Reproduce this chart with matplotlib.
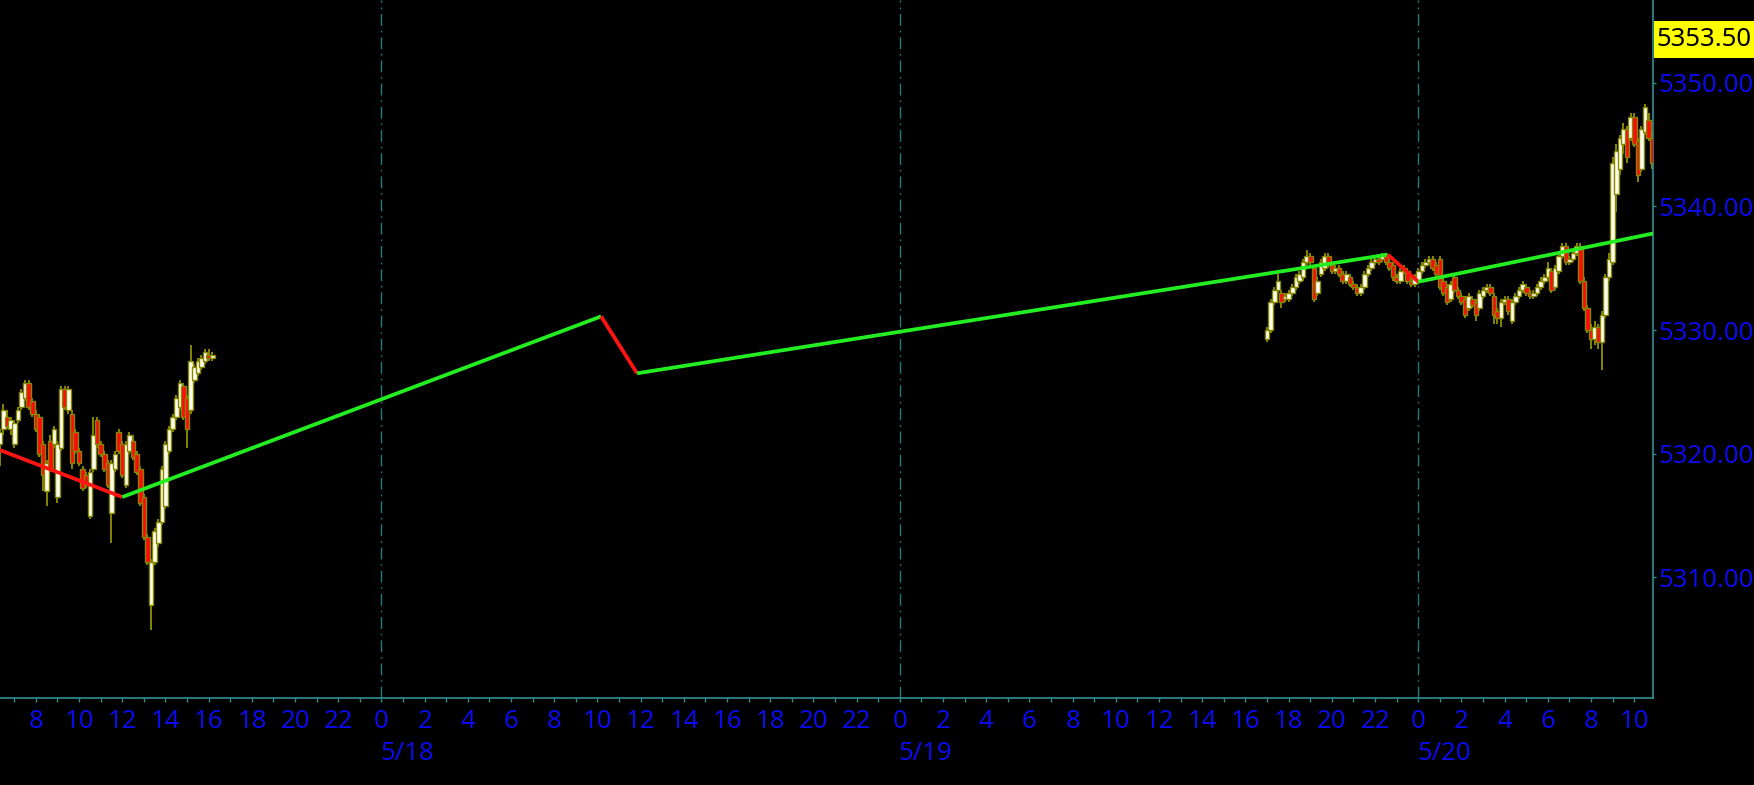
import matplotlib
matplotlib.use('Agg')
import matplotlib.pyplot as plt
import numpy as np
import pandas as pd
from matplotlib.ticker import FixedLocator, FuncFormatter
from matplotlib.patches import Rectangle

# ---------------- data ----------------
origin = pd.Timestamp('2024-05-17 00:00')
left_start = '2024-05-17 06:20'
right_start = '2024-05-19 17:00'
bar_freq = '10min'

left_open = [5320.75, 5322.0, 5323.0, 5322.0, 5320.75, 5322.75, 5323.75, 5324.5, 5325.75, 5324.25,
             5323.25, 5323.0, 5320.75, 5317.0, 5321.0, 5320.75, 5316.5, 5320.5, 5325.25,
             5323.5, 5323.25, 5321.75, 5320.25, 5318.75, 5318.25, 5315.0, 5318.75, 5322.75, 5320.75,
             5320.0, 5319.25, 5315.25, 5318.75, 5321.75, 5320.75, 5317.5, 5320.25,
             5321.0, 5320.0, 5318.75, 5316.5, 5313.25, 5307.75, 5311.25, 5312.75, 5314.5, 5315.75,
             5320.25, 5322.0, 5323.0, 5323.75, 5325.5, 5324.5, 5323.5, 5326.0, 5326.5, 5327.0,
             5327.5, 5328.0, 5327.75]
left_high = [5322.0, 5324.0, 5323.5, 5323.0, 5322.75, 5323.75, 5325.25, 5326.0, 5326.0, 5324.5,
             5323.5, 5323.25, 5321.0, 5319.5, 5321.5, 5322.25, 5321.0, 5325.5, 5325.5,
             5325.5, 5323.5, 5322.0, 5320.5, 5319.0, 5318.5, 5318.75, 5323.0, 5323.0, 5321.0,
             5320.25, 5319.5, 5319.5, 5320.25, 5322.0, 5321.0, 5321.0, 5321.75,
             5321.5, 5320.25, 5319.0, 5316.75, 5313.5, 5311.5, 5314.0, 5314.75, 5319.0, 5321.0,
             5322.25, 5323.25, 5324.75, 5326.0, 5325.75, 5324.75, 5328.75, 5327.25, 5327.75, 5328.0,
             5328.5, 5328.5, 5328.25]
left_low = [5319.0, 5321.5, 5322.0, 5321.5, 5320.5, 5322.5, 5323.5, 5324.25, 5323.5, 5323.0,
            5321.75, 5319.75, 5317.0, 5315.75, 5318.5, 5320.5, 5316.0, 5320.25, 5323.5,
            5323.25, 5318.75, 5320.0, 5319.0, 5317.0, 5317.25, 5314.75, 5318.5, 5320.5, 5319.75,
            5318.5, 5317.25, 5312.75, 5318.5, 5320.0, 5318.0, 5317.25, 5320.0,
            5319.5, 5318.25, 5315.75, 5313.0, 5311.0, 5305.75, 5311.0, 5312.5, 5314.25, 5315.5,
            5320.0, 5321.75, 5322.75, 5323.5, 5322.75, 5320.5, 5323.25, 5325.75, 5326.25, 5326.75,
            5327.25, 5327.5, 5327.5]
left_close = [5321.75, 5323.5, 5322.25, 5322.75, 5322.5, 5323.5, 5325.0, 5325.75, 5323.75, 5323.25,
              5322.0, 5320.0, 5318.25, 5319.25, 5318.75, 5322.0, 5320.75, 5325.25, 5323.75,
              5325.25, 5319.25, 5320.25, 5319.25, 5317.25, 5317.5, 5318.5, 5321.5, 5320.75, 5320.0,
              5318.75, 5317.5, 5319.25, 5320.0, 5320.25, 5318.25, 5320.75, 5321.5,
              5319.75, 5318.5, 5316.0, 5313.25, 5311.25, 5311.25, 5313.75, 5314.5, 5318.75, 5320.75,
              5322.0, 5323.0, 5324.5, 5325.75, 5323.0, 5322.0, 5327.5, 5327.0, 5327.5, 5327.75,
              5328.25, 5327.75, 5328.0]

right_open = [5329.25, 5330.0, 5332.25, 5333.25, 5333.0, 5332.5, 5332.5, 5333.0, 5333.5, 5334.0,
              5334.25, 5335.5, 5336.0, 5335.0, 5333.0, 5334.5, 5335.0, 5336.0, 5335.25, 5334.75,
              5335.0, 5334.5, 5334.0, 5334.25, 5333.75, 5333.5, 5333.0, 5333.5, 5334.5, 5335.0,
              5335.5, 5335.75, 5335.75, 5336.0, 5335.5, 5335.25, 5334.25, 5334.0, 5334.75, 5334.75,
              5334.0, 5333.75, 5334.0, 5334.75, 5335.25, 5335.5, 5335.75, 5335.25, 5335.75, 5334.0,
              5333.5, 5332.5, 5334.25, 5333.25, 5332.75, 5332.5, 5331.75, 5332.5, 5332.25, 5331.75,
              5332.75, 5333.25, 5333.5, 5332.75, 5331.5, 5331.0, 5332.25, 5332.5, 5330.75, 5332.25,
              5332.75, 5333.25, 5333.5, 5333.0, 5332.75, 5333.0, 5333.5, 5334.0, 5334.25, 5334.75,
              5333.5, 5334.75, 5336.0, 5336.75, 5335.5, 5335.75, 5336.25, 5336.75, 5334.0, 5331.75,
              5330.0, 5329.25, 5330.25, 5329.0, 5331.25, 5334.25, 5335.5, 5341.0, 5343.0, 5345.0,
              5346.25, 5345.5, 5347.25, 5345.25, 5343.0, 5346.0, 5347.0, 5345.5]
right_high = [5330.25, 5332.5, 5333.5, 5334.5, 5333.25, 5333.0, 5333.25, 5333.75, 5334.5, 5334.75,
              5335.75, 5336.5, 5336.25, 5335.25, 5334.25, 5335.75, 5336.25, 5336.25, 5335.5, 5335.25,
              5335.25, 5334.75, 5334.75, 5334.5, 5334.0, 5333.75, 5333.75, 5334.75, 5335.25, 5335.75,
              5336.0, 5336.0, 5336.25, 5336.25, 5335.75, 5335.5, 5334.5, 5335.0, 5335.25, 5335.0,
              5334.25, 5334.5, 5335.0, 5335.5, 5335.75, 5336.0, 5336.0, 5335.5, 5336.0, 5334.25,
              5333.75, 5334.0, 5334.5, 5333.5, 5333.0, 5332.75, 5333.0, 5332.75, 5332.5, 5333.25,
              5333.5, 5333.75, 5333.75, 5333.0, 5331.75, 5332.5, 5332.75, 5332.75, 5332.5, 5333.0,
              5333.5, 5334.0, 5333.75, 5333.25, 5333.25, 5333.75, 5334.25, 5334.5, 5335.5, 5335.0,
              5335.25, 5336.25, 5337.0, 5337.0, 5336.0, 5336.5, 5337.0, 5337.0, 5334.25, 5332.0,
              5330.5, 5330.75, 5330.5, 5331.5, 5334.5, 5336.25, 5344.0, 5345.0, 5345.75, 5346.75,
              5346.5, 5347.5, 5347.5, 5345.5, 5346.5, 5348.25, 5347.5, 5346.0]
right_low = [5329.0, 5329.75, 5332.0, 5333.0, 5331.75, 5332.25, 5332.25, 5332.75, 5333.25, 5333.75,
             5334.0, 5335.25, 5335.25, 5332.25, 5332.75, 5334.25, 5334.75, 5335.0, 5334.5, 5334.5,
             5334.25, 5333.75, 5333.75, 5333.5, 5333.25, 5332.75, 5332.75, 5333.25, 5334.25, 5334.75,
             5335.25, 5335.25, 5335.5, 5335.25, 5334.75, 5334.0, 5333.75, 5333.75, 5334.5, 5333.75,
             5333.5, 5333.5, 5333.75, 5334.5, 5335.0, 5335.25, 5334.75, 5334.25, 5333.25, 5332.75,
             5332.0, 5332.25, 5333.0, 5332.5, 5332.0, 5331.0, 5331.5, 5331.75, 5330.75, 5331.5,
             5332.5, 5333.0, 5332.75, 5330.5, 5330.5, 5330.25, 5332.0, 5331.25, 5330.5, 5332.0,
             5332.5, 5333.0, 5332.75, 5332.5, 5332.5, 5332.75, 5333.25, 5333.75, 5334.0, 5333.0,
             5333.25, 5334.5, 5335.75, 5335.25, 5335.25, 5335.5, 5336.0, 5333.75, 5331.5, 5329.75,
             5328.5, 5328.75, 5328.5, 5326.75, 5331.0, 5334.0, 5335.25, 5339.5, 5342.5, 5344.25,
             5343.5, 5345.25, 5344.75, 5342.0, 5342.75, 5345.75, 5345.25, 5343.0]
right_close = [5330.0, 5332.25, 5333.25, 5334.0, 5332.25, 5332.75, 5333.0, 5333.5, 5334.25, 5334.5,
               5335.5, 5336.0, 5335.5, 5332.5, 5334.0, 5335.5, 5336.0, 5335.25, 5334.75, 5335.0,
               5334.5, 5334.0, 5334.5, 5333.75, 5333.5, 5333.0, 5333.5, 5334.5, 5335.0, 5335.5,
               5335.75, 5335.5, 5336.0, 5335.5, 5335.0, 5334.25, 5334.0, 5334.75, 5335.0, 5334.0,
               5333.75, 5334.25, 5334.75, 5335.25, 5335.5, 5335.75, 5335.0, 5334.5, 5333.5, 5333.0,
               5332.25, 5333.75, 5333.25, 5332.75, 5332.25, 5331.25, 5332.75, 5332.0, 5331.25, 5333.0,
               5333.25, 5333.5, 5333.0, 5331.25, 5331.0, 5332.25, 5332.5, 5331.5, 5332.25, 5332.75,
               5333.25, 5333.75, 5333.0, 5332.75, 5333.0, 5333.5, 5334.0, 5334.25, 5335.0, 5333.25,
               5335.0, 5336.0, 5336.75, 5335.5, 5335.75, 5336.25, 5336.75, 5334.0, 5331.75, 5330.0,
               5329.25, 5330.25, 5329.0, 5331.25, 5334.25, 5335.75, 5343.5, 5344.5, 5345.5, 5346.25,
               5344.0, 5347.25, 5345.0, 5342.5, 5346.25, 5348.0, 5345.5, 5343.5]

zz_times = ['2024-05-17 06:20', '2024-05-17 12:00', '2024-05-18 10:10', '2024-05-18 11:50',
            '2024-05-19 22:35', '2024-05-20 00:00', '2024-05-20 10:52']
zz_prices = [5320.3, 5316.5, 5331.1, 5326.5, 5336.1, 5333.9, 5337.8]

last_price = 5353.50
y_ticks = [5310, 5320, 5330, 5340, 5350]
date_ticks = ['2024-05-18', '2024-05-19', '2024-05-20']
date_labels = ['5/18', '5/19', '5/20']
view_start = '2024-05-17 06:20:24'
view_end = '2024-05-20 10:52'
y_range = (5300.26, 5356.67)

# ---------------- helpers ----------------
def hours(ts):
    return (pd.to_datetime(ts) - origin) / pd.Timedelta(hours=1)

BG = 'black'
TEAL = '#2e8f8f'
GRID = '#267a7a'
BLUE = '#0b0bea'
OLIVE = '#868600'
UPC = '#fffff0'
DNC = '#ff0a0a'
FONT = ['Noto Sans', 'DejaVu Sans']
FS = 18.5

fig = plt.figure(figsize=(17.54, 7.85), dpi=100, facecolor=BG)
ax = fig.add_axes([0, 87 / 785, 1653 / 1754, 698 / 785], facecolor=BG)

xmin, xmax = hours(view_start), hours(view_end)
ax.set_xlim(xmin, xmax)
ax.set_ylim(*y_range)

# midnight dashed grid
for d in date_ticks:
    ax.axvline(hours(d), color=GRID, lw=1.0, dashes=(8.5, 3.5, 1.2, 3.5), zorder=1)

def draw_candles(start, o, h, l, c):
    t = hours(pd.date_range(start, periods=len(o), freq=bar_freq))
    o, h, l, c = map(np.asarray, (o, h, l, c))
    ax.vlines(t, l, h, color=OLIVE, lw=1.4, zorder=2)
    up = c >= o
    bottom = np.minimum(o, c)
    height = np.maximum(np.abs(c - o), 0.08)
    cols = np.where(up, UPC, DNC)
    ax.bar(t, height, bottom=bottom, width=0.21, color=cols, edgecolor=OLIVE,
           linewidth=1.0, zorder=3)

draw_candles(left_start, left_open, left_high, left_low, left_close)
draw_candles(right_start, right_open, right_high, right_low, right_close)

# zigzag
zx = hours(zz_times)
for i in range(len(zz_prices) - 1):
    col = '#22ee22' if zz_prices[i + 1] > zz_prices[i] else '#ff1414'
    ax.plot([zx[i], zx[i + 1]], [zz_prices[i], zz_prices[i + 1]], color=col, lw=2.7,
            solid_capstyle='butt', zorder=4)

# spines
for s in ['top', 'left']:
    ax.spines[s].set_visible(False)
for s in ['right', 'bottom']:
    ax.spines[s].set_color(TEAL)
    ax.spines[s].set_linewidth(1.2)

# y axis on right
ax.yaxis.tick_right()
ax.set_yticks(y_ticks)
ax.yaxis.set_major_formatter(FuncFormatter(lambda v, p: f'{v:.2f}'))
ax.tick_params(axis='y', colors=TEAL, labelcolor=BLUE, length=2.5, width=1, pad=1.5,
               labelsize=FS)

# x axis
start_h = int(np.ceil(xmin / 2.0) * 2)
major = list(range(start_h, int(xmax) + 1, 2))
minor = list(range(int(np.ceil(xmin)), int(xmax) + 1))
ax.xaxis.set_major_locator(FixedLocator(major))
ax.xaxis.set_minor_locator(FixedLocator(minor))
ax.xaxis.set_major_formatter(FuncFormatter(lambda v, p: f'{int(round(v)) % 24}'))
ax.tick_params(axis='x', which='both', colors=TEAL, labelcolor=BLUE, length=3, width=1,
               pad=5, labelsize=FS)

for lab in ax.get_xticklabels() + ax.get_yticklabels():
    lab.set_fontfamily(FONT)

xt = ax.get_xaxis_transform()
for d, lbl in zip(date_ticks, date_labels):
    ax.text(hours(d) - 0.05, -0.08, lbl, transform=xt, ha='left', va='center', color=BLUE,
            fontsize=FS, fontfamily=FONT, clip_on=False)

# last price label
yt = ax.get_yaxis_transform()
ax.add_patch(Rectangle((1.0005, last_price - 1.5), 0.07, 3.0, transform=yt,
                       facecolor='#ffff00', edgecolor='none', clip_on=False, zorder=5))
ax.text(1.002, last_price, f'{last_price:.2f}', transform=yt, ha='left', va='center',
        color='black', fontsize=FS, fontfamily=FONT, clip_on=False, zorder=6)

fig.savefig('out.png', dpi=100, facecolor=BG)
